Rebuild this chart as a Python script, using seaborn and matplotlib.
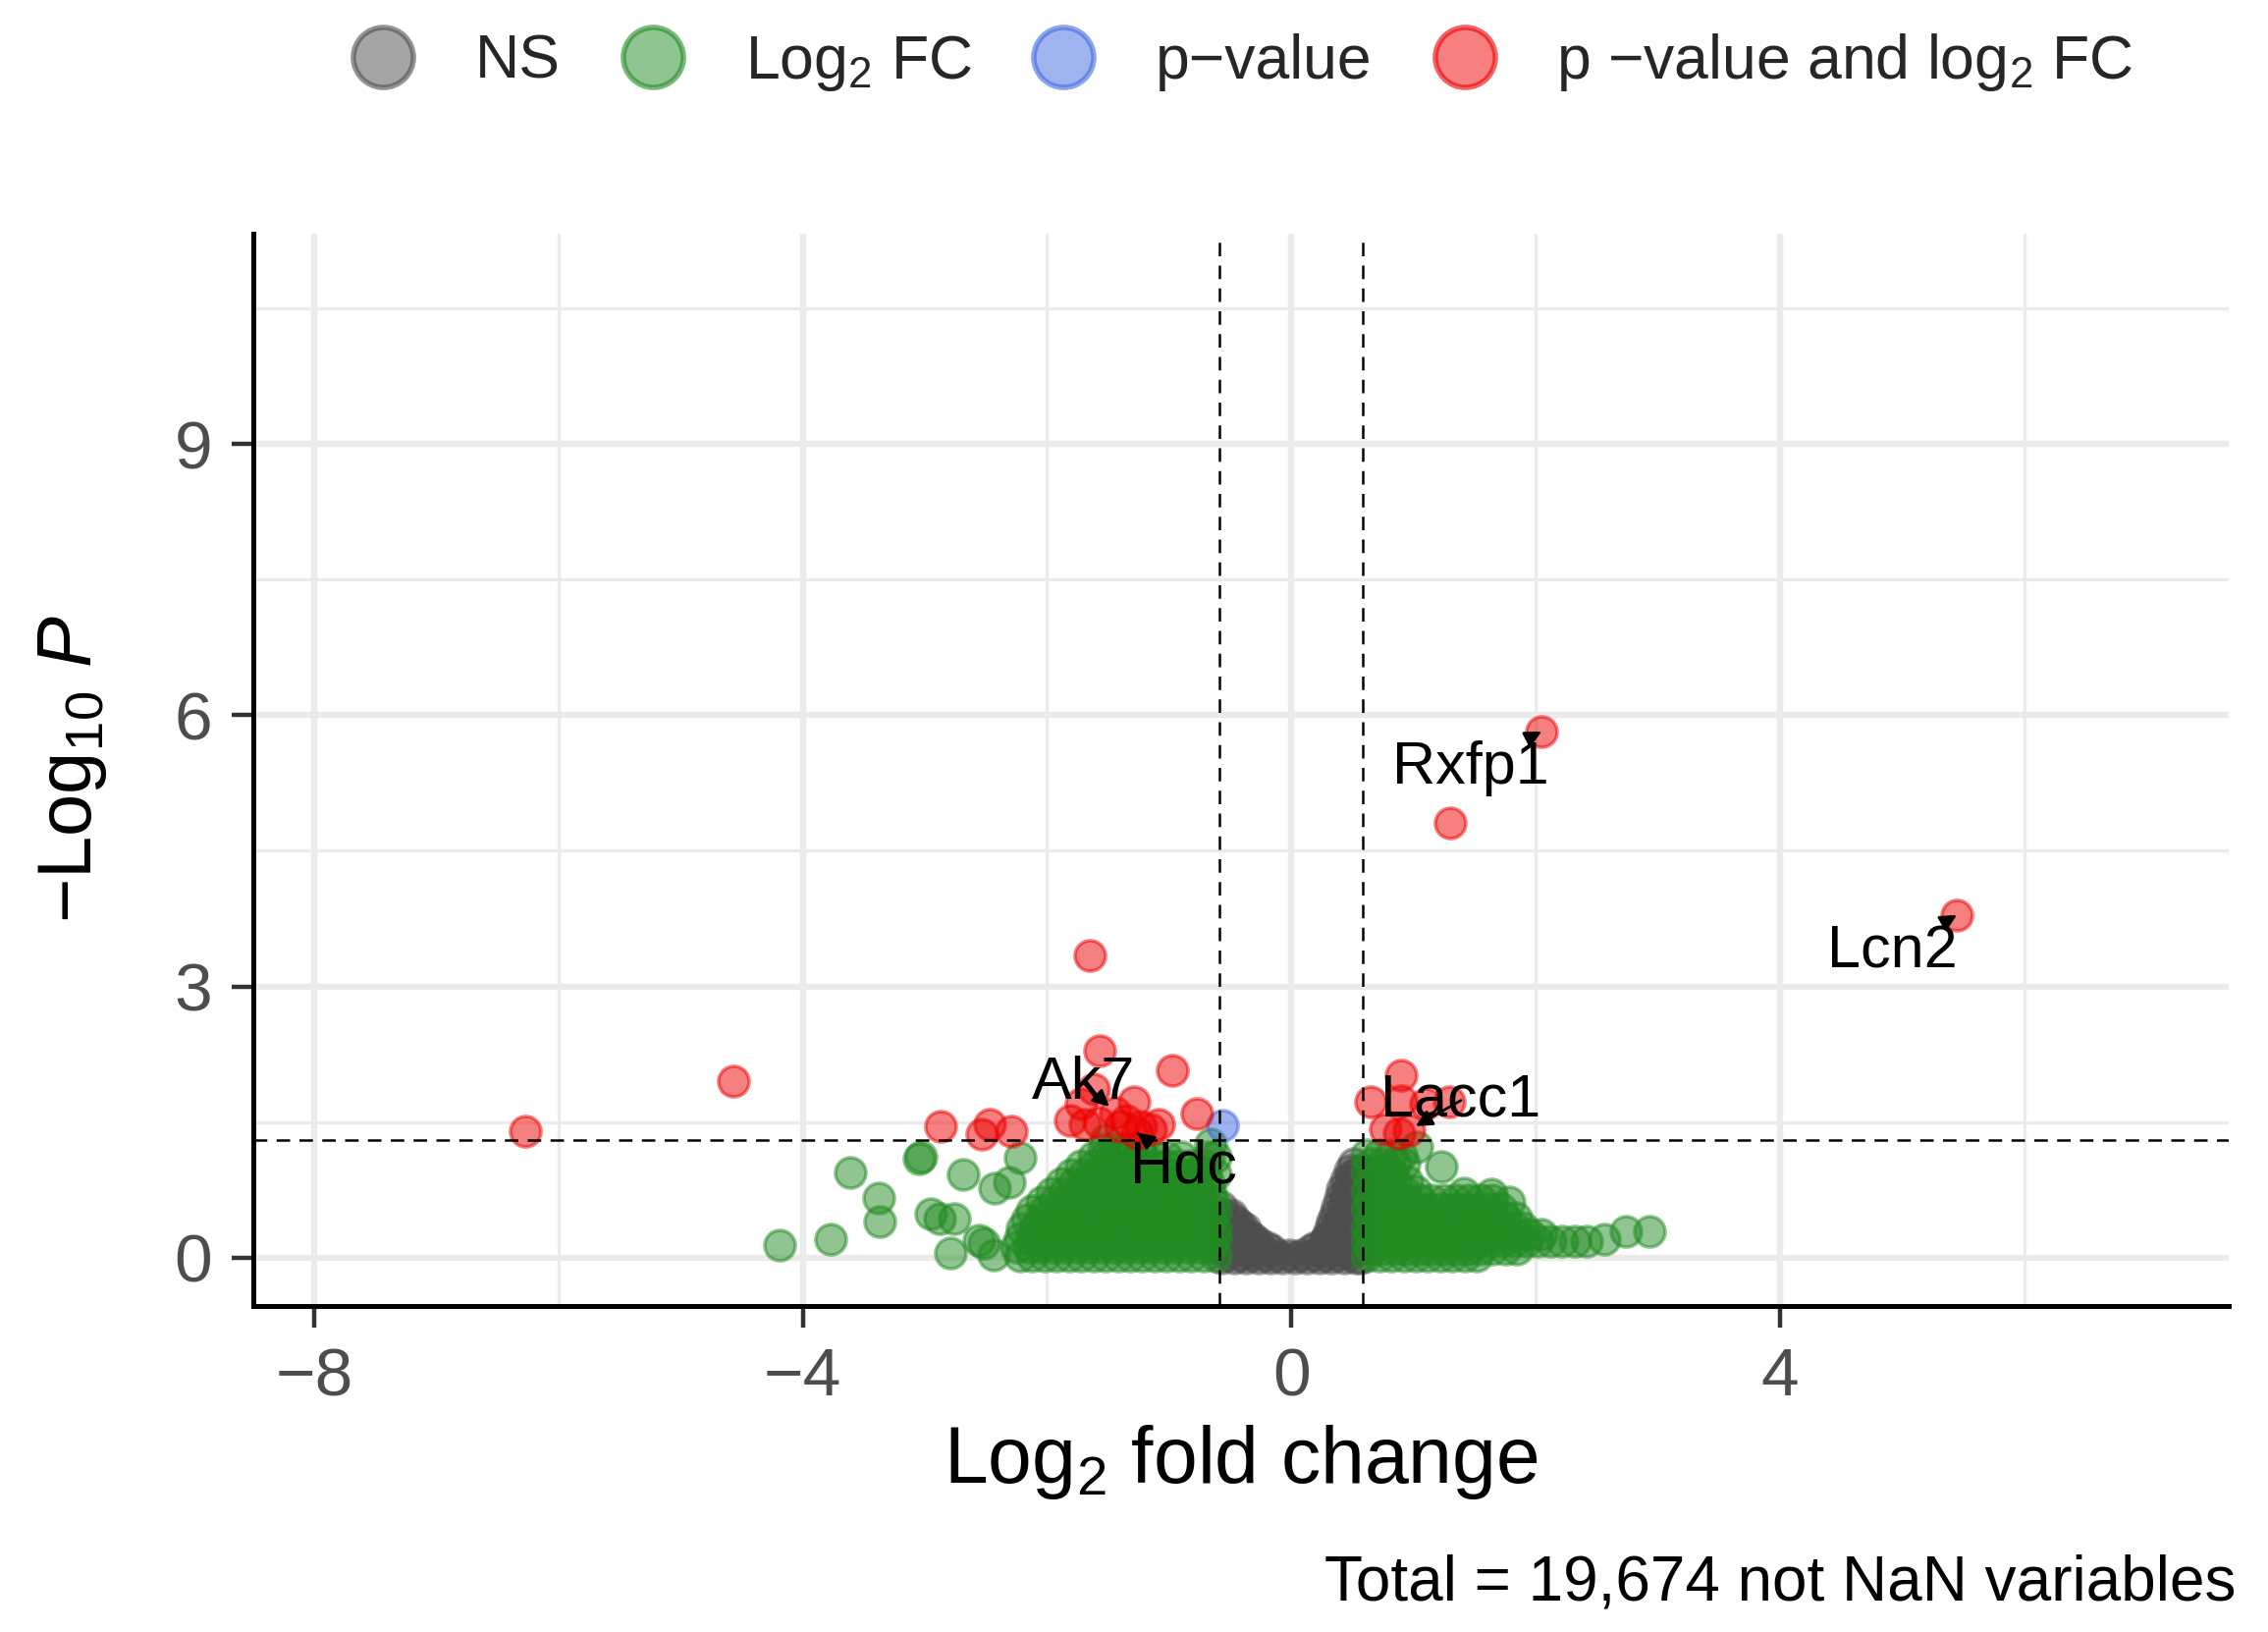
import numpy as np
import pandas as pd
import matplotlib
matplotlib.use("Agg")
import matplotlib.pyplot as plt
import seaborn as sns
from matplotlib.lines import Line2D
from matplotlib.colors import to_rgba

# ------------------------------------------------------------------ data
fc_cutoff = 0.585          # log2(1.5)
p_cutoff = 1.301           # -log10(0.05)

# NS (grey) points, rows: (-log10 P, [log2FC values])
ns_rows = [
    (0.00, [-0.57, -0.47, -0.37, -0.27, -0.17, -0.07, 0.03, 0.13, 0.23, 0.33, 0.43, 0.53, 0.57]),
    (0.03, [-0.52, -0.42, -0.32, -0.22, -0.12, -0.02, 0.08, 0.18, 0.28, 0.38, 0.48]),
    (0.08, [-0.54, -0.44, -0.34, -0.24, -0.16, 0.16, 0.24, 0.34, 0.44, 0.54]),
    (0.12, [-0.57, -0.49, -0.39, -0.29, -0.20, 0.20, 0.29, 0.39, 0.49, 0.57]),
    (0.16, [-0.57, -0.47, -0.37, -0.27, 0.27, 0.37, 0.47, 0.57]),
    (0.20, [-0.52, -0.42, -0.31, 0.29, 0.42, 0.52]),
    (0.24, [-0.54, -0.44, -0.34, 0.30, 0.40, 0.50]),
    (0.28, [-0.57, -0.49, -0.40, 0.36, 0.46, 0.56]),
    (0.32, [-0.57, -0.47, -0.38, 0.32, 0.42, 0.52]),
    (0.36, [-0.52, -0.42, 0.38, 0.48, 0.57]),
    (0.40, [-0.54, -0.45, 0.34, 0.44, 0.54]),
    (0.44, [-0.57, -0.50, 0.40, 0.50]),
    (0.48, [-0.56, -0.49, 0.36, 0.46, 0.56]),
    (0.56, [-0.57, 0.38, 0.48, 0.56]),
    (0.61, [0.43, 0.53]),
    (0.66, [0.40, 0.50]),
    (0.71, [0.45, 0.56]),
    (0.76, [0.42, 0.52]),
    (0.81, [0.47, 0.56]),
    (0.86, [0.45, 0.54]),
    (0.91, [0.50]),
    (0.96, [0.48, 0.55]),
    (1.04, [0.51]),
]

# Log2 FC only (green): dense clouds, rows: (-log10 P, [log2FC values])
fc_rows = [
    # left cloud
    (0.02, [-2.22, -2.12, -2.02, -1.92, -1.82, -1.72, -1.62, -1.52, -1.42, -1.32, -1.22, -1.12, -1.02, -0.92, -0.82, -0.72, -0.62]),
    (0.12, [-2.25, -2.15, -2.05, -1.95, -1.85, -1.75, -1.65, -1.55, -1.45, -1.35, -1.25, -1.15, -1.05, -0.95, -0.85, -0.75, -0.65]),
    (0.22, [-2.22, -2.12, -2.02, -1.92, -1.82, -1.72, -1.62, -1.52, -1.42, -1.32, -1.22, -1.12, -1.02, -0.92, -0.82, -0.72, -0.62]),
    (0.32, [-2.20, -2.10, -2.00, -1.90, -1.80, -1.70, -1.60, -1.50, -1.40, -1.30, -1.20, -1.10, -1.00, -0.90, -0.80, -0.70, -0.62]),
    (0.42, [-2.16, -2.06, -1.96, -1.86, -1.76, -1.66, -1.56, -1.46, -1.36, -1.26, -1.16, -1.06, -0.96, -0.86, -0.76, -0.66]),
    (0.52, [-2.12, -2.02, -1.92, -1.82, -1.72, -1.62, -1.52, -1.42, -1.32, -1.22, -1.12, -1.02, -0.92, -0.82, -0.72, -0.62]),
    (0.62, [-2.04, -1.94, -1.84, -1.74, -1.64, -1.54, -1.44, -1.34, -1.24, -1.14, -1.04, -0.94, -0.84, -0.74, -0.64]),
    (0.72, [-1.96, -1.86, -1.76, -1.66, -1.56, -1.46, -1.36, -1.26, -1.16, -1.06, -0.96, -0.86, -0.76, -0.66]),
    (0.82, [-1.88, -1.78, -1.68, -1.58, -1.48, -1.38, -1.28, -1.18, -1.08, -0.98, -0.88, -0.78, -0.68]),
    (0.92, [-1.80, -1.70, -1.60, -1.50, -1.40, -1.30, -1.20, -1.10, -1.00, -0.90, -0.80, -0.70, -0.62]),
    (1.02, [-1.72, -1.62, -1.52, -1.42, -1.32, -1.22, -1.12, -1.02, -0.92, -0.82, -0.72]),
    (1.12, [-1.62, -1.52, -1.42, -1.32, -1.22, -1.12, -1.02, -0.90, -0.68]),
    (1.20, [-1.54, -1.44, -1.34, -1.24]),
    # right cloud
    (0.02, [0.62, 0.72, 0.82, 0.92, 1.02, 1.12, 1.22, 1.32, 1.42, 1.52]),
    (0.10, [0.65, 0.75, 0.85, 0.95, 1.05, 1.15, 1.25, 1.35, 1.45, 1.55, 1.65, 1.75, 1.85]),
    (0.18, [0.62, 0.72, 0.82, 0.92, 1.02, 1.12, 1.22, 1.32, 1.42, 1.52, 1.62, 1.72, 1.82, 1.92, 2.02, 2.12, 2.22, 2.32, 2.42]),
    (0.26, [0.65, 0.75, 0.85, 0.95, 1.05, 1.15, 1.25, 1.35, 1.45, 1.55, 1.65, 1.75, 1.85, 1.95, 2.05]),
    (0.34, [0.62, 0.72, 0.82, 0.92, 1.02, 1.12, 1.22, 1.32, 1.42, 1.52, 1.62, 1.72, 1.82, 1.90]),
    (0.44, [0.65, 0.75, 0.85, 0.95, 1.05, 1.15, 1.25, 1.35, 1.45, 1.55, 1.65, 1.75, 1.84]),
    (0.54, [0.62, 0.72, 0.82, 0.92, 1.02, 1.12, 1.22, 1.32, 1.42, 1.52, 1.62, 1.72]),
    (0.64, [0.65, 0.75, 0.85, 0.95, 1.05, 1.15, 1.25, 1.35, 1.45, 1.55, 1.65]),
    (0.74, [0.62, 0.72, 0.82, 0.92, 1.02]),
    (0.84, [0.65, 0.75, 0.85, 0.95]),
    (0.94, [0.62, 0.72, 0.82]),
    (1.04, [0.65, 0.75, 0.85, 0.92]),
    (1.14, [0.62, 0.72, 0.82, 0.90]),
]
fc_extra_x = [-4.19, -3.77, -3.61, -3.37, -3.38, -3.05, -3.03, -2.95, -2.88, -2.76,
              -2.69, -2.79, -2.56, -2.44, -2.43, -2.31, -2.22, -2.52, -1.52, -0.66,
              -0.62, 1.23, 2.74, 2.93, 2.56, 1.03, 1.41, 1.64, 1.78]
fc_extra_y = [0.14, 0.20, 0.94, 0.40, 0.66, 1.09, 1.12, 0.49, 0.43, 0.43,
              0.92, 0.05, 0.19, 0.03, 0.77, 0.83, 1.11, 0.16, 1.30, 1.26,
              1.12, 1.01, 0.29, 0.29, 0.20, 1.22, 0.72, 0.70, 0.62]

# p-value only (blue)
p_x = [-0.56]
p_y = [1.46]

# p-value and log2 FC (red)
both_x = [-6.27, -4.57, -1.65, -1.57, -0.97, -2.87, -2.47, -2.53, -2.29, -1.81,
          -1.62, -1.72, -1.58, -1.44, -1.29, -1.35, -1.23, -1.09, -1.26, -0.77,
          -1.69, -1.40, -1.15,
          0.90, 0.65, 0.90, 1.29, 1.10, 0.77, 0.96, 0.88, 1.30, 2.05, 5.45]
both_y = [1.40, 1.95, 3.34, 2.29, 2.07, 1.45, 1.47, 1.37, 1.40, 1.52,
          1.87, 1.70, 1.50, 1.61, 1.72, 1.52, 1.45, 1.48, 1.38, 1.59,
          1.48, 1.45, 1.42,
          2.02, 1.72, 1.74, 1.72, 1.70, 1.42, 1.41, 1.38, 4.81, 5.82, 3.79]

# labelled genes (point coordinates)
gene_names = ["Ak7", "Hdc", "Lacc1", "Rxfp1", "Lcn2"]
gene_x = [-1.44, -1.26, 0.96, 2.05, 5.45]
gene_y = [1.61, 1.38, 1.41, 5.82, 3.79]

categories = ["NS", "Log2 FC", "p-value", "p-value and log2 FC"]
legend_labels = ["NS", "Log$_2$ FC", "p\u2212value", "p \u2212value and log$_2$ FC"]
total_text = "Total = 19,674 not NaN variables"

# ------------------------------------------------------------------ table
def rows_to_xy(rows):
    xs, ys = [], []
    for yv, xl in rows:
        xs.extend(xl)
        ys.extend([yv] * len(xl))
    return xs, ys

ns_x, ns_y = rows_to_xy(ns_rows)
fc_x, fc_y = rows_to_xy(fc_rows)
fc_x += fc_extra_x
fc_y += fc_extra_y

df = pd.DataFrame({
    "log2FC": ns_x + fc_x + p_x + both_x,
    "nlogp": ns_y + fc_y + p_y + both_y,
    "cat": ([categories[0]] * len(ns_x) + [categories[1]] * len(fc_x)
            + [categories[2]] * len(p_x) + [categories[3]] * len(both_x)),
})

# ------------------------------------------------------------------ style
sns.set_style("white")
plt.rcParams["font.family"] = ["Liberation Sans", "DejaVu Sans"]
plt.rcParams["mathtext.fontset"] = "custom"
plt.rcParams["mathtext.rm"] = "Liberation Sans"
plt.rcParams["mathtext.it"] = "Liberation Sans:italic"
plt.rcParams["mathtext.bf"] = "Liberation Sans:bold"

palette = {"NS": "#4D4D4D", "Log2 FC": "#228B22",
           "p-value": "#4169E1", "p-value and log2 FC": "#EE0000"}

fig = plt.figure(figsize=(11.55, 8.31), dpi=200)
ax = fig.add_axes([0.1116, 0.200, 0.8713, 0.657])

for cat in categories:
    sub = df[df["cat"] == cat]
    sns.scatterplot(data=sub, x="log2FC", y="nlogp", color=palette[cat],
                    edgecolor=palette[cat], s=125, linewidth=1.3, alpha=0.5,
                    legend=False, ax=ax, zorder=3)

# cutoff lines
dash = (0, (5.5, 3.8))
ax.axvline(-fc_cutoff, color="black", lw=0.9, ls=dash, zorder=4)
ax.axvline(fc_cutoff, color="black", lw=0.9, ls=dash, zorder=4)
ax.axhline(p_cutoff, color="black", lw=0.9, ls=dash, zorder=4)

# gene labels
text_pos = {"Ak7": (-1.70, 1.93), "Hdc": (-0.88, 1.00), "Lacc1": (1.39, 1.74),
            "Rxfp1": (1.47, 5.41), "Lcn2": (4.92, 3.38)}
for g, gx, gy in zip(gene_names, gene_x, gene_y):
    tx, ty = text_pos[g]
    ax.annotate(g, xy=(gx, gy), xytext=(tx, ty), ha="center", va="center",
                fontsize=22, color="black", zorder=6,
                arrowprops=dict(arrowstyle="-|>,head_length=0.5,head_width=0.25",
                                mutation_scale=10, color="black", lw=1.0,
                                shrinkA=0, shrinkB=3))

# axes
ax.set_xlim(-8.5, 7.68)
ax.set_ylim(-0.53, 11.33)
ax.set_xticks([-8, -4, 0, 4])
ax.set_xticks([-6, -2, 2, 6], minor=True)
ax.set_yticks([0, 3, 6, 9])
ax.set_yticks([1.5, 4.5, 7.5, 10.5], minor=True)
ax.set_axisbelow(True)
ax.grid(which="major", color="#EBEBEB", lw=2.3)
ax.grid(which="minor", color="#EBEBEB", lw=1.2)
ax.tick_params(which="major", length=8, width=1.6, color="#333333",
               labelsize=25, labelcolor="#4D4D4D", pad=7,
               bottom=True, left=True)
ax.tick_params(which="minor", length=0)

for side in ["top", "right"]:
    ax.spines[side].set_visible(False)
for side in ["left", "bottom"]:
    ax.spines[side].set_color("black")
    ax.spines[side].set_linewidth(1.8)

ax.set_xlabel("Log$_2$ fold change", fontsize=29, labelpad=5, color="black")
ax.set_ylabel("\u2212Log$_{10}$ $\\mathit{P}$", fontsize=28, labelpad=24, color="black")

# legend
handles = [Line2D([], [], marker="o", ls="", markersize=22,
                  markerfacecolor=to_rgba(palette[c], 0.5),
                  markeredgecolor=to_rgba(palette[c], 0.6),
                  markeredgewidth=2.0) for c in categories]
fig.legend(handles, legend_labels, loc="center", bbox_to_anchor=(0.548, 0.962),
           ncol=4, frameon=False, fontsize=22.5, handlelength=1.0,
           handletextpad=1.0, columnspacing=1.0)

fig.text(0.986, 0.030, total_text, ha="right", va="center", fontsize=23,
         color="black")

fig.savefig("out.png", dpi=200)
